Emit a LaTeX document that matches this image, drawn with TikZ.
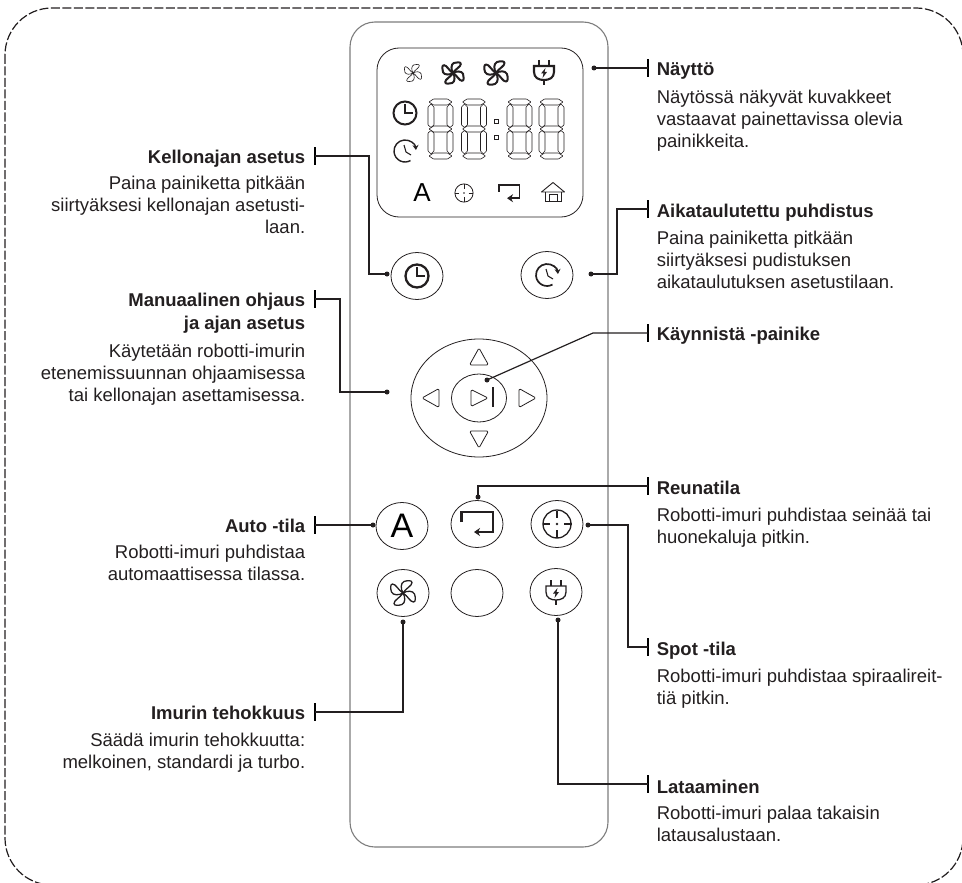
\documentclass[tikz,border=0pt]{standalone}
\usepackage{fontspec}
\setmainfont{Liberation Sans}
\usepackage{tikz}
\usetikzlibrary{arrows.meta,positioning,shapes.geometric}
\definecolor{inkdark}{RGB}{35,31,32}
\definecolor{shellgray}{RGB}{125,125,125}
\tikzset{
    fanicon/.pic={
        \foreach \a in {0,90,180,270} {
            \draw[rotate=\a, line join=round] (0,0) .. controls (-2.5,-4) and (-2.5,-10) .. (1,-11.5) .. controls (4,-12.5) and (9,-13) .. (9,-10.5) .. controls (9,-7) and (3,-5) .. (0,0);
        }
    },
    plugicon/.pic={
        \draw (-5,-12) -- (-5,-6) (5,-12) -- (5,-6) (0,8) -- (0,13);
        \draw (-10,-6) -- (10,-6) -- (10,0) .. controls (10,6) and (5,8) .. (0,8) .. controls (-5,8) and (-10,6) .. (-10,0) -- cycle;
        \fill (1.5,-4) -- (-3,1.5) -- (-0.5,1.5) -- (-1.5,6) -- (3,0) -- (0.5,0) -- cycle;
    },
    clockicon/.pic={
        \draw (0,0) circle[radius=11.5pt];
        \draw (0,-9) -- (0,0) -- (8,0);
    },
    timericon/.pic={
        \draw[{Stealth[length=5pt,width=6pt]}-] (5:11pt) arc[start angle=5, end angle=300, radius=11pt];
        \draw[line width=1.1pt] (-1,-6) -- (1,1) -- (6,4);
    },
    returnicon/.pic={
        \draw[-{Stealth[length=6pt,width=8pt]}] (-15.5,-2) -- (-15.5,-12) -- (16,-12) -- (16,8) -- (-3,8);
    },
    targeticon/.pic={
        \draw (0,0) circle[radius=14pt];
        \draw (0,-13.5) -- (0,-6) (0,6) -- (0,13.5) (-14.5,0) -- (-7,0) (7,0) -- (14.5,0);
        \fill (0,0) circle[radius=1.3pt];
    },
    houseicon/.pic={
        \draw[line join=round] (-11.5,0) -- (0,-9.5) -- (11.5,0) -- cycle;
        \draw (-8,0) -- (-8,9) -- (8,9) -- (8,0) (-4,9) -- (-4,2) -- (4,2) -- (4,9);
    },
    digiticon/.pic={
        \foreach \cy in {-27,0,27} {
            \draw[rounded corners=.5pt] (-11.5,\cy) -- (-7,\cy-3) -- (7,\cy-3) -- (11.5,\cy) -- (7,\cy+3) -- (-7,\cy+3) -- cycle;
        }
        \foreach \cx in {-9.5,9.5} {
            \draw[rounded corners=.5pt] (\cx,-25) -- (\cx+3,-22) -- (\cx+3,-4) -- (\cx,-1.5) -- (\cx-3,-4) -- (\cx-3,-22) -- cycle;
            \draw[rounded corners=.5pt] (\cx,25) -- (\cx+3,22) -- (\cx+3,4) -- (\cx,1.5) -- (\cx-3,4) -- (\cx-3,22) -- cycle;
        }
    },
}
\begin{document}
\begin{tikzpicture}[
    x=1pt, y=-1pt,
    btn/.style={draw=inkdark, ellipse, line width=.8pt, minimum width=52pt, minimum height=47pt, inner sep=0pt},
    dot/.style={fill=inkdark, circle, minimum size=5pt, inner sep=0pt},
    tick/.style={fill=black, minimum width=2.8pt, minimum height=18pt, inner sep=0pt},
    leader/.style={draw=inkdark, line width=1.2pt},
    headr/.style={anchor=base west, xshift=7pt, yshift=2pt, inner sep=0pt, text=inkdark, font=\fontsize{18.5}{23}\selectfont\bfseries},
    headl/.style={anchor=base east, xshift=-8pt, yshift=2pt, inner sep=0pt, text=inkdark, font=\fontsize{18.5}{23}\selectfont\bfseries},
    bodyr/.style={inner sep=0pt, align=left, text=inkdark, font=\fontsize{18.5}{22}\selectfont, execute at begin node=\strut},
    bodyl/.style={inner sep=0pt, align=right, text=inkdark, font=\fontsize{18.5}{22}\selectfont, execute at begin node=\strut},
]
\clip (0,0) rectangle (962,883);
\draw[inkdark, line width=1.2pt, dash pattern=on 9pt off 2.5pt, rounded corners=47pt] (5,8) rectangle (963,885);
\draw[shellgray, line width=1.1pt, rounded corners=25pt] (350,22) rectangle (608,847);

% display
\draw[inkdark, line width=.8pt, rounded corners=22pt] (377,48) rectangle (583,217);
\pic[scale=.7, line width=.6pt, inkdark] at (413,73) {fanicon};
\pic[scale=.87, line width=2pt, inkdark] at (453,73) {fanicon};
\pic[scale=.95, line width=2pt, inkdark] at (496,73) {fanicon};
\pic[line width=2.1pt, inkdark] at (544,72) {plugicon};
\pic[line width=2pt, inkdark] at (405,113) {clockicon};
\pic[line width=1.4pt, inkdark] at (405,151) {timericon};
\foreach \x in {440.5,474,519.5,551.5} {
    \pic[line width=.6pt, inkdark] at (\x,129) {digiticon};
}
\draw[inkdark, line width=.6pt] (494,119) rectangle (498,123) (494,135) rectangle (498,139);
\node[inner sep=0pt, text=black, font=\fontsize{26}{26}\selectfont] (dispauto) at (422,193) {A};
\pic[scale=.65, line width=.8pt, inkdark] at (464,193) {targeticon};
\pic[scale=.65, line width=1.5pt, inkdark] at (509,193) {returnicon};
\pic[line width=.9pt, inkdark] at (553,192) {houseicon};

% buttons
\node[btn] (clockbtn) at (417,276) {};
\node[btn] (timerbtn) at (547,275) {};
\node[btn, minimum width=136pt, minimum height=118pt] (navbtn) at (479,398) {};
\node[btn, minimum width=55pt, minimum height=48pt] (playbtn) at (479,398) {};
\node[btn, font=\fontsize{34}{34}\selectfont] (autobtn) at (402,526) {A};
\node[btn] (edgebtn) at (477,524) {};
\node[btn] (spotbtn) at (557,524) {};
\node[btn] (fanbtn) at (403,593) {};
\node[btn] (blankbtn) at (477,593) {};
\node[btn] (chargebtn) at (556,592) {};
\pic[line width=2.3pt, inkdark] at (clockbtn) {clockicon};
\pic[line width=1.7pt, inkdark] at (timerbtn) {timericon};
\pic[line width=2.5pt, inkdark] at (edgebtn) {returnicon};
\pic[line width=1.3pt, inkdark] at (spotbtn) {targeticon};
\pic[line width=1.3pt, inkdark] at (fanbtn) {fanicon};
\pic[line width=1.3pt, inkdark] at (chargebtn) {plugicon};
\foreach \a/\d in {0/0,90/7,180/0,270/7} {
    \draw[inkdark, line width=.8pt, rounded corners=1.5pt, shift={(479,398)}, rotate=\a] (-9.5,-33-\d) -- (0,-50-\d) -- (9.5,-33-\d) -- cycle;
}
\draw[inkdark, line width=.8pt, rounded corners=1.5pt] (471,389.5) -- (488,398) -- (471,406.5) -- cycle;
\draw[inkdark, line width=2.2pt] (493,387) -- (493,407);

% left labels
\node[tick] (clocktick) at (315,156) {};
\node[headl] (clockhead) at (clocktick.south west) {Kellonajan asetus};
\node[bodyl, below left=13pt and 0pt of clockhead.base east] (clocktext) {Paina painiketta pitkään\\siirtyäksesi kellonajan asetusti-\\laan.};
\node[dot] (clockdot) at (387,274) {};
\draw[leader] (clockdot.center) -- (369,274) |- (clocktick.center);

\node[tick] (navtick) at (315,299) {};
\node[headl] (navhead) at (navtick.south west) {Manuaalinen ohjaus};
\node[headl, xshift=8pt, yshift=-2pt, below left=23pt and 0pt of navhead.base east, anchor=base east] (navhead2) {ja ajan asetus};
\node[bodyl, below left=14.6pt and 0pt of navhead2.base east] (navtext) {Käytetään robotti-imurin\\etenemissuunnan ohjaamisessa\\tai kellonajan asettamisessa.};
\node[dot] (navdot) at (387,392) {};
\draw[leader] (navdot.center) -- (340,392) |- (navtick.center);

\node[tick] (autotick) at (315,525) {};
\node[headl] (autohead) at (autotick.south west) {Auto -tila};
\node[bodyl, below left=13pt and 0pt of autohead.base east] (autotext) {Robotti-imuri puhdistaa\\automaattisessa tilassa.};
\node[dot] (autodot) at (373,525) {};
\draw[leader] (autodot.center) -- (autotick.center);

\node[tick] (fantick) at (315,712) {};
\node[headl] (fanhead) at (fantick.south west) {Imurin tehokkuus};
\node[bodyl, below left=14pt and 0pt of fanhead.base east] (fantext) {Säädä imurin tehokkuutta:\\melkoinen, standardi ja turbo.};
\node[dot] (fandot) at (403,622) {};
\draw[leader] (fandot.center) |- (fantick.center);

% right labels
\node[tick] (disptick) at (648,68) {};
\node[headr] (disphead) at (disptick.south east) {Näyttö};
\node[bodyr, below right=15pt and 0pt of disphead.base west] (disptext) {Näytössä näkyvät kuvakkeet\\vastaavat painettavissa olevia\\painikkeita.};
\node[dot] (dispdot) at (594,68) {};
\draw[leader] (dispdot.center) -- (disptick.center);

\node[tick] (timertick) at (648,209) {};
\node[headr, yshift=-1pt] (timerhead) at (timertick.south east) {Aikataulutettu puhdistus};
\node[bodyr, below right=14pt and 0pt of timerhead.base west] (timertext) {Paina painiketta pitkään\\siirtyäksesi pudistuksen\\aikataulutuksen asetustilaan.};
\node[dot] (timerdot) at (591,274) {};
\draw[leader] (timerdot.center) -- (617,274) |- (timertick.center);

\node[tick] (playtick) at (648,333) {};
\node[headr] (playhead) at (playtick.south east) {Käynnistä -painike};
\node[dot] (playdot) at (487,380) {};
\draw[leader] (playdot.center) -- (593,333) -- (playtick.center);

\node[tick] (edgetick) at (648,486) {};
\node[headr, yshift=-1pt] (edgehead) at (edgetick.south east) {Reunatila};
\node[bodyr, below right=14pt and 0pt of edgehead.base west] (edgetext) {Robotti-imuri puhdistaa seinää tai\\huonekaluja pitkin.};
\node[dot] (edgedot) at (478,497) {};
\draw[leader] (edgedot.center) |- (edgetick.center);

\node[tick] (spottick) at (648,647) {};
\node[headr, yshift=-1pt] (spothead) at (spottick.south east) {Spot -tila};
\node[bodyr, below right=13.5pt and 0pt of spothead.base west] (spottext) {Robotti-imuri puhdistaa spiraalireit-\\tiä pitkin.};
\node[dot] (spotdot) at (588,525) {};
\draw[leader] (spotdot.center) -- (628,525) |- (spottick.center);

\node[tick] (chargetick) at (648,784) {};
\node[headr, yshift=-2pt] (chargehead) at (chargetick.south east) {Lataaminen};
\node[bodyr, below right=12.6pt and 0pt of chargehead.base west] (chargetext) {Robotti-imuri palaa takaisin\\latausalustaan.};
\node[dot] (chargedot) at (558,620) {};
\draw[leader] (chargedot.center) |- (chargetick.center);
\end{tikzpicture}
\end{document}
